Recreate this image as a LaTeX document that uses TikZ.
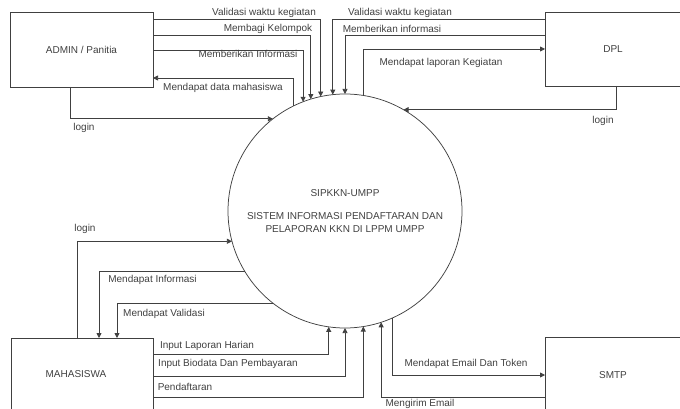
\documentclass[tikz,border=0pt]{standalone}
\usepackage{fontspec}
\setmainfont{Liberation Sans}
\usetikzlibrary{arrows.meta}
\begin{document}
\begin{tikzpicture}[x=1pt,y=-1pt,
  ent/.style={draw=black!75, line width=0.75pt, fill=white, inner sep=0pt, outer sep=0pt,
    font=\fontsize{10}{12}\selectfont, text=black!75},
  proc/.style={circle, draw=black!75, line width=0.75pt, inner sep=0pt, outer sep=0pt,
    minimum size=234pt, align=center, font=\fontsize{10}{13.5}\selectfont, text=black!75},
  flow/.style={draw=black!75, line width=0.75pt, -{Triangle[length=5pt,width=5pt]}},
  lbl/.style={font=\fontsize{10}{12}\selectfont, text=black!75, inner sep=0pt}]
\useasboundingbox (0,0) rectangle (680,409);

% entities
\node[ent, minimum width=143pt, minimum height=75pt] (admin) at (81.5,49.5) {ADMIN / Panitia};
\node[ent, minimum width=136pt, minimum height=74pt] (dpl) at (613,49) {DPL};
\node[ent, minimum width=142pt, minimum height=72pt] (mhs) at (82,374) {MAHASISWA\hspace*{12pt}};
\node[ent, minimum width=136pt, minimum height=76pt] (smtp) at (613,375) {SMTP};

% process
\node[proc] (sys) at (345,211) {SIPKKN-UMPP\\[9.5pt]SISTEM INFORMASI PENDAFTARAN DAN\\PELAPORAN KKN DI LPPM UMPP};

% admin flows
\draw[flow] (admin.east |- 0,19) -| (sys.102.3);
\draw[flow] (admin.east |- 0,35) -| (sys.107.9);
\draw[flow] (admin.east |- 0,50) -| (sys.111.0);
\draw[flow] (sys.116.9) |- (admin.east |- 0,78);
\draw[flow] (admin.south -| 70,0) |- (sys.128.2);

% dpl flows
\draw[flow] (dpl.west |- 0,19) -| (sys.96.9);
\draw[flow] (dpl.west |- 0,35) -| (sys.90);
\draw[flow] (sys.81.6) |- (dpl.west);
\draw[flow] (dpl.south -| 616,0) |- (sys.60.7);

% mahasiswa flows
\draw[flow] (mhs.north -| 77,0) |- (sys.195.4);
\draw[flow] (sys.211.4) -| (mhs.north -| 99,0);
\draw[flow] (sys.232.6) -| (mhs.north -| 117,0);
\draw[flow] (mhs.east |- 0,354) -| (sys.262.6);
\draw[flow] (mhs.east |- 0,376) -| (sys.270);
\draw[flow] (mhs.east |- 0,397) -| (sys.279.3);

% smtp flows
\draw[flow] (smtp.west |- 0,397) -| (sys.288.4);
\draw[flow] (sys.294.8) |- (smtp.west);

% labels
\node[lbl] (l1) at (264,13) {Validasi waktu kegiatan};
\node[lbl] (l2) at (268,29) {Membagi Kelompok};
\node[lbl] (l3) at (248,54) {Memberikan Informasi};
\node[lbl] (l4) at (223,88) {Mendapat data mahasiswa};
\node[lbl] (l5) at (84,128) {login};
\node[lbl] (l6) at (400,13) {Validasi waktu kegiatan};
\node[lbl] (l7) at (392,29) {Memberikan informasi};
\node[lbl] (l8) at (441,63) {Mendapat laporan Kegiatan};
\node[lbl] (l9) at (603,121) {login};
\node[lbl] (l10) at (85,229) {login};
\node[lbl] (l11) at (152.5,280) {Mendapat Informasi};
\node[lbl] (l12) at (164,314) {Mendapat Validasi};
\node[lbl] (l13) at (207,346) {Input Laporan Harian};
\node[lbl] (l14) at (228,364) {Input Biodata Dan Pembayaran};
\node[lbl] (l15) at (185,387) {Pendaftaran};
\node[lbl] (l16) at (466,364) {Mendapat Email Dan Token};
\node[lbl] (l17) at (420,404) {Mengirim Email};
\end{tikzpicture}
\end{document}
